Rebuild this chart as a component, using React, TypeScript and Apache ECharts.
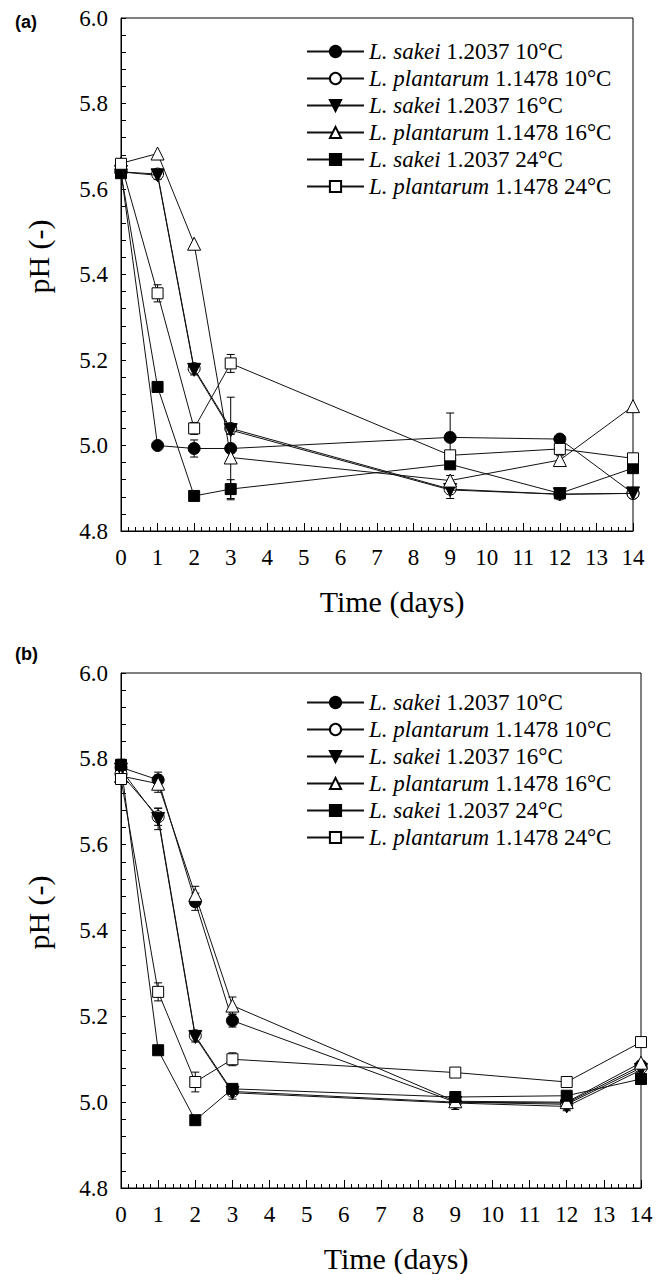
import React, { useEffect, useRef } from "react";
import * as echarts from "echarts";

const days = [0, 1, 2, 3, 9, 12, 14];
const xTicks = [0, 14, 1];
const yTicks = [4.8, 6.0, 0.2];

const seriesNames = [
  "L. sakei 1.2037 10°C",
  "L. plantarum 1.1478 10°C",
  "L. sakei 1.2037 16°C",
  "L. plantarum 1.1478 16°C",
  "L. sakei 1.2037 24°C",
  "L. plantarum 1.1478 24°C",
];

// Panel (a)
const aSakei10 = [5.64, 5.0, 4.993, 4.993, 5.019, 5.015, 4.888];
const aPlant10 = [5.64, 5.635, 5.18, 5.04, 4.898, 4.886, 4.888];
const aSakei16 = [5.64, 5.632, 5.177, 5.036, 4.896, 4.886, 4.888];
const aPlant16 = [5.66, 5.683, 5.472, 4.972, 4.918, 4.966, 5.092];
const aSakei24 = [5.637, 5.137, 4.882, 4.898, 4.956, 4.888, 4.947];
const aPlant24 = [5.659, 5.356, 5.04, 5.192, 4.977, 4.992, 4.97];

const aSakei10Err = [0, 0, 0.02, 0.12, 0.057, 0, 0];
const aPlant10Err = [0, 0, 0, 0, 0, 0, 0];
const aSakei16Err = [0, 0.01, 0.012, 0.01, 0.02, 0.008, 0];
const aPlant16Err = [0.01, 0, 0, 0, 0.012, 0.01, 0];
const aSakei24Err = [0, 0, 0, 0.022, 0.008, 0.008, 0];
const aPlant24Err = [0.01, 0.02, 0.014, 0.021, 0, 0, 0];

// Panel (b)
const bSakei10 = [5.78, 5.751, 5.467, 5.19, 5.0, 4.998, 5.085];
const bPlant10 = [5.765, 5.665, 5.155, 5.025, 5.0, 4.995, 5.08];
const bSakei16 = [5.775, 5.66, 5.152, 5.022, 4.998, 4.99, 5.075];
const bPlant16 = [5.76, 5.742, 5.483, 5.225, 5.002, 5.0, 5.092];
const bSakei24 = [5.786, 5.121, 4.958, 5.031, 5.012, 5.015, 5.054];
const bPlant24 = [5.753, 5.257, 5.047, 5.1, 5.069, 5.047, 5.14];

const bSakei10Err = [0.01, 0.018, 0.02, 0.015, 0, 0, 0];
const bPlant10Err = [0, 0.02, 0, 0, 0, 0, 0];
const bSakei16Err = [0.01, 0.025, 0.012, 0.015, 0.015, 0.01, 0];
const bPlant16Err = [0.01, 0.02, 0.02, 0.02, 0, 0, 0];
const bSakei24Err = [0.013, 0, 0, 0.01, 0, 0, 0];
const bPlant24Err = [0.01, 0.021, 0.023, 0.015, 0, 0, 0];

const panelA = [aSakei10, aPlant10, aSakei16, aPlant16, aSakei24, aPlant24];
const panelAErr = [aSakei10Err, aPlant10Err, aSakei16Err, aPlant16Err, aSakei24Err, aPlant24Err];
const panelB = [bSakei10, bPlant10, bSakei16, bPlant16, bSakei24, bPlant24];
const panelBErr = [bSakei10Err, bPlant10Err, bSakei16Err, bPlant16Err, bSakei24Err, bPlant24Err];

const symbols = ["circle", "circle", "triangle", "triangle", "rect", "rect"];
const rotations = [0, 0, 180, 0, 0, 0];
const filled = [true, false, true, false, true, false];
const symbolSizes = [12, 12, 13, 13, 11, 11];

const SERIF = "Liberation Serif";

function makeAxes(gridIndex: number) {
  const x = {
    type: "value",
    gridIndex,
    min: xTicks[0],
    max: xTicks[1],
    interval: xTicks[2],
    name: "Time (days)",
    nameLocation: "middle",
    nameGap: 55,
    nameTextStyle: { fontFamily: SERIF, fontSize: 30, color: "#000", padding: [0, 0, 0, 30] },
    axisLine: { show: true, lineStyle: { color: "#000", width: 1 } },
    axisTick: { show: true, inside: true, length: 8, lineStyle: { color: "#000", width: 1 } },
    minorTick: { show: true, splitNumber: 5, length: 4, lineStyle: { color: "#000", width: 1 } },
    axisLabel: { fontFamily: SERIF, fontSize: 23, color: "#000", margin: 15 },
    splitLine: { show: false },
  };
  const y = {
    type: "value",
    gridIndex,
    min: yTicks[0],
    max: yTicks[1],
    interval: yTicks[2],
    name: "pH (-)",
    nameLocation: "middle",
    nameRotate: 90,
    nameGap: 68,
    nameTextStyle: { fontFamily: SERIF, fontSize: 30, color: "#000", padding: [0, 0, 0, 36] },
    axisLine: { show: true, lineStyle: { color: "#000", width: 1 } },
    axisTick: { show: true, inside: true, length: 5, lineStyle: { color: "#000", width: 1 } },
    minorTick: { show: true, splitNumber: 5, length: 5, lineStyle: { color: "#000", width: 1 } },
    axisLabel: {
      fontFamily: SERIF,
      fontSize: 23,
      color: "#000",
      margin: 13,
      formatter: (v: number) => v.toFixed(1),
    },
    splitLine: { show: false },
  };
  return { x, y };
}

function makeSeries(panel: number[][], errs: number[][], axisIndex: number) {
  const out: any[] = [];
  panel.forEach((vals, i) => {
    out.push({
      type: "custom",
      name: "err-" + axisIndex + "-" + i,
      xAxisIndex: axisIndex,
      yAxisIndex: axisIndex,
      silent: true,
      z: 1,
      data: days.map((d, k) => [d, vals[k], errs[i][k]]),
      encode: { x: 0, y: 1 },
      renderItem: (params: any, api: any) => {
        const x = api.value(0);
        const y = api.value(1);
        const e = api.value(2);
        if (!e) return null;
        const t = api.coord([x, y + e]);
        const b = api.coord([x, y - e]);
        const w = 4;
        const st = { stroke: "#000", lineWidth: 1 };
        return {
          type: "group",
          children: [
            { type: "line", shape: { x1: t[0], y1: t[1], x2: b[0], y2: b[1] }, style: st },
            { type: "line", shape: { x1: t[0] - w, y1: t[1], x2: t[0] + w, y2: t[1] }, style: st },
            { type: "line", shape: { x1: b[0] - w, y1: b[1], x2: b[0] + w, y2: b[1] }, style: st },
          ],
        };
      },
    });
  });
  panel.forEach((vals, i) => {
    out.push({
      type: "line",
      name: seriesNames[i],
      xAxisIndex: axisIndex,
      yAxisIndex: axisIndex,
      z: 2 + i,
      data: days.map((d, k) => [d, vals[k]]),
      symbol: symbols[i],
      symbolRotate: rotations[i],
      symbolSize: symbolSizes[i],
      showAllSymbol: true,
      lineStyle: { color: "#111", width: 1 },
      itemStyle: filled[i]
        ? { color: "#000", borderColor: "#000", borderWidth: 1 }
        : { color: "#fff", borderColor: "#000", borderWidth: 1 },
      emphasis: { disabled: true },
    });
  });
  return out;
}

function makeLegend(top: number) {
  return {
    orient: "vertical",
    left: 301,
    top,
    itemWidth: 57,
    itemHeight: 14,
    itemGap: 0,
    selectedMode: false,
    data: seriesNames,
    formatter: (name: string) => {
      const i = name.indexOf(" ", 3);
      return "{i|" + name.slice(0, i) + "}{r| " + name.slice(i + 1) + "}";
    },
    textStyle: {
      fontFamily: SERIF,
      fontSize: 23,
      color: "#000",
      lineHeight: 27,
      rich: {
        i: { fontFamily: SERIF, fontSize: 23, fontStyle: "italic", color: "#000", lineHeight: 27 },
        r: { fontFamily: SERIF, fontSize: 23, fontStyle: "normal", color: "#000", lineHeight: 27 },
      },
    },
  };
}

export default function App() {
  const ref = useRef<HTMLDivElement>(null);
  useEffect(() => {
    if (!ref.current) return;
    const chart = echarts.init(ref.current, undefined, { renderer: "svg" });
    const axA = makeAxes(0);
    const axB = makeAxes(1);
    chart.setOption({
      animation: false,
      backgroundColor: "#fff",
      textStyle: { fontFamily: SERIF },
      grid: [
        { left: 121, top: 18, width: 512, height: 513, show: true, borderColor: "#000", borderWidth: 1, backgroundColor: "transparent" },
        { left: 121, top: 673, width: 520, height: 519, show: true, borderColor: "#000", borderWidth: 1, backgroundColor: "transparent" },
      ],
      xAxis: [axA.x, axB.x],
      yAxis: [axA.y, axB.y],
      legend: [makeLegend(33), makeLegend(684)],
      graphic: [
        { type: "text", left: 15, top: 13, style: { text: "(a)", font: "bold 18px Liberation Sans", fill: "#000" } },
        { type: "text", left: 15, top: 645, style: { text: "(b)", font: "bold 18px Liberation Sans", fill: "#000" } },
      ],
      series: [...makeSeries(panelA, panelAErr, 0), ...makeSeries(panelB, panelBErr, 1)],
    });
    return () => chart.dispose();
  }, []);
  return (
    <div
      ref={ref}
      style={{ position: "absolute", left: 0, top: 0, width: 665, height: 1274 }}
    />
  );
}
